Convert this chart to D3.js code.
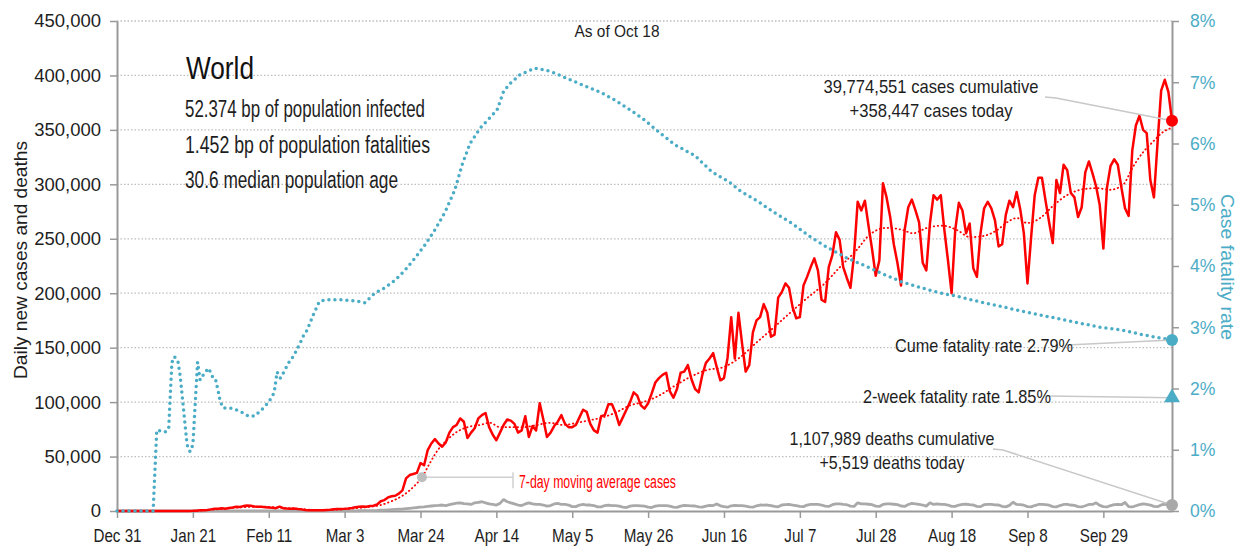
<!DOCTYPE html>
<html>
<head>
<meta charset="utf-8">
<script src="https://cdn.jsdelivr.net/npm/d3@7"></script>
<style>
  body { margin: 0; background: #fff; }
  svg text { font-family: "Liberation Sans", Arial, sans-serif; }
</style>
</head>
<body>
<div id="chart"></div>
<script>
// daily new cases (thousands), one value per day from Dec 31
const dailyCases = [
  0,0,0,0,0,0,0,0,0,0, 0,0,0,0,0,0,0,0,0,0,
  0.1,0.15,0.3,0.6,0.7,1.0,1.5,2.0,2.1,2.6,
  2.0,2.8,3.2,3.9,3.7,4.5,5.0,4.8,4.2,3.8,
  3.8,3.5,3.2,3.0,2.6,4.0,2.6,2.2,2.0,2.2,
  1.8,1.5,1.0,0.8,0.6,0.6,0.6,0.8,1.0,1.2,
  1.5,1.8,1.8,2.0,2.3,2.8,3.5,4.0,4.2,4.0,
  4.5,4.8,6,9,10,12.5,13.5,14,16,19,
  30,33,34,35,44,42,56,62,66,62,
  59,63,72,77,79,85,82,67,72,76,
  85,88,90,77,70,65,72,79,84,83,
  80,72,74,87,68,78,74,99,84,68,
  72,78,82,88,80,77,77,79,86,93,
  91,80,74,72,87,88,98,98,90,79,
  86,93,100,109,106,97,94,99,108,118,
  122,125,127,110,104,112,127,128,134,121,
  112,109,125,136,140,145,132,120,122,141,
  178,140,182,154,128,134,164,175,178,190,
  182,160,162,196,201,209,205,187,177,178,
  207,215,224,232,221,194,192,224,235,256,
  249,224,214,205,235,284,276,285,262,240,
  216,230,301,288,270,245,228,207,258,279,
  286,276,265,228,221,264,290,286,290,258,
  230,200,258,283,276,255,264,223,215,255,
  278,284,278,267,243,245,272,285,279,293,
  277,255,209,251,290,306,306,285,265,246,
  304,292,318,313,292,288,270,279,311,321,
  310,298,281,241,297,317,323,318,297,278,
  271,331,354,363,350,347,304,288,338,386,
  396,385,358.447
];

// daily new deaths (thousands)
const dailyDeaths = [
  0,0,0,0,0,0,0,0,0,0, 0,0,0,0,0,0,0,0,0,0, 0,
  0.01,0.01,0.02,0.02,0.03,0.04,0.05,0.04,0.06,0.04,
  0.05,0.06,0.06,0.07,0.07,0.08,0.09,0.09,0.1,0.1,
  0.1,0.1,0.12,0.14,0.12,0.11,0.1,0.1,0.1,0.1,
  0.1,0.1,0.1,0.08,0.06,0.06,0.05,0.06,0.07,0.08,
  0.1,0.1,0.12,0.15,0.15,0.2,0.25,0.3,0.3,0.35,
  0.4,0.5,0.7,0.8,1.0,1.2,1.4,1.6,1.8,2.2,
  2.5,2.8,3.2,3.5,3.8,4.2,4.6,5.0,5.2,5.5,
  5.0,5.8,6.6,7.2,7.5,6.8,6.5,6.0,7.5,8.0,
  8.5,7.5,6.5,6.0,5.5,7.0,10.5,8.5,7.5,6.5,
  5.5,5.0,6.5,7.5,6.5,6.0,6.0,5.5,4.5,5.0,
  6.5,7.0,6.0,6.0,5.5,4.0,4.0,5.5,6.0,5.5,
  5.5,5.0,3.8,3.8,5.0,5.5,5.0,5.0,4.5,3.5,
  3.2,4.5,5.0,5.0,4.8,4.5,3.5,3.2,4.5,5.0,
  5.0,5.0,4.5,3.5,3.3,4.5,5.2,5.0,4.8,4.6,
  3.8,3.5,4.5,5.2,5.0,6.5,4.8,4.0,3.5,4.8,
  5.2,5.0,5.0,4.5,3.8,3.5,4.8,5.5,5.4,5.5,
  5.0,4.2,3.8,5.5,5.8,6.0,5.5,5.0,4.2,4.0,
  5.5,6.0,6.0,6.0,5.5,4.5,4.2,5.8,6.5,6.5,
  6.0,5.8,4.5,4.2,7.5,6.5,6.5,6.2,5.8,4.5,
  4.2,6.0,6.5,6.6,6.2,5.8,4.6,4.2,6.0,7.0,
  6.5,6.0,5.5,4.5,7.5,6.0,6.5,6.0,6.0,5.5,
  4.3,4.2,5.5,6.0,6.2,5.8,5.5,4.2,4.0,5.8,
  6.0,6.0,5.6,5.5,4.2,3.8,5.2,8.0,6.0,5.8,
  5.3,4.0,3.8,5.0,6.0,6.0,5.8,5.3,4.0,3.8,
  5.0,6.0,6.0,5.5,5.2,4.0,3.7,4.8,6.0,6.0,
  7.5,5.2,4.0,3.7,5.0,5.8,6.0,5.8,7.8,4.0,
  3.7,4.8,5.8,6.5,6.0,5.5,4.2,4.0,5.6,6.2,6.2,5.519
];

// 7-day moving average of cases (day, thousands)
const avgDays = [0,20,25,30,35,40,45,50,55,60,65,70,73,76,79,82,84.4,86.6,88.8,91.3,94,97,100.5,103.2,106,109.3,112.4,116.2,119.8,123.4,127.3,131,134.5,138.4,142,145.6,150.3,153.9,158.6,163.3,167.7,172.4,177.1,181.6,186.3,191,195.4,200.1,204.8,208.4,213,217.5,220.3,224.2,228.6,232.5,236.1,239.7,243.6,246.3,249.1,251.9,255.5,259,262.9,267.4,271.2,274.8,278.4,281.2,284,286.7,289.5,292];
const avgCases = [0,0.1,0.8,2.2,3.5,4.0,3.2,2.2,1.0,1.1,2.2,3.8,5.5,9,14,22,31,44,56,65,72.5,77,79,81,77,77,77,79,81,79,81,83.5,86,91,97,100,106.5,114,123,129.5,132,141,155,168,182,195.5,207.5,224,240,254,260,258,255,260,262,258,251.5,252.5,258,265,269,264.5,269,280,290,295.5,296.5,295,299.5,316,329.5,339,348,352];

// cumulative case fatality rate (day, percent)
const cfrDays = [0,10,11,13.3,14.3,15.2,15.9,16.9,17.5,19.4,20.2,21,22.3,23,24.4,25.4,26.3,27.2,28.1,28.6,29.5,31.3,33,34.6,36.4,38,39.6,41,42.3,43.5,44.3,45.2,45.9,46.8,47.8,48.9,49.8,50.7,51.6,52.6,54.3,56,58,62,66,68.6,71.4,74,77,79.7,82.5,85.2,88,90.8,93.5,95.5,97.7,100.5,103.2,105.2,107,108.8,111.5,115.7,118.5,121.2,125.4,129.5,133.7,137.8,142,146.1,150.3,154.4,160,164.6,169.7,172.4,177.5,182,186.7,191.8,196.4,202,208.4,211.6,217.2,222.3,227.8,232.9,238.4,243.9,249,255.5,263.8,272,277.6,284.5,292];
const cfrPct = [0,0,1.32,1.29,1.34,2.43,2.52,2.43,2.2,1.08,0.97,1.08,2.43,2.14,2.27,2.33,2.2,2.17,1.93,1.78,1.68,1.68,1.65,1.61,1.55,1.55,1.63,1.71,1.81,1.93,2.27,2.17,2.24,2.34,2.45,2.53,2.64,2.74,2.86,2.95,3.2,3.42,3.45,3.45,3.43,3.40,3.56,3.64,3.77,3.93,4.13,4.34,4.59,4.88,5.24,5.65,6.0,6.25,6.42,6.55,6.85,6.98,7.12,7.23,7.2,7.15,7.04,6.94,6.84,6.71,6.55,6.38,6.17,5.98,5.8,5.54,5.36,5.23,5.05,4.87,4.70,4.48,4.31,4.13,3.97,3.88,3.74,3.65,3.56,3.50,3.42,3.35,3.28,3.2,3.1,3.0,2.96,2.87,2.79];

const xTickDays = [0,21,42,63,84,105,126,147,168,189,210,231,252,273];
const yTicks = [0,50000,100000,150000,200000,250000,300000,350000,400000,450000];
const rateTicks = [0,0.01,0.02,0.03,0.04,0.05,0.06,0.07,0.08];

const statLines = ["52.374 bp of population infected", "1.452 bp of population fatalities", "30.6 median population age"];
const totalCases = 39774551, totalDeaths = 1107989;
const twoWeekRate = 1.85;

const width = 1241, height = 548;
const margin = { top: 21, right: 69, bottom: 37, left: 117 };
const start = new Date(2019, 11, 31);
const end = new Date(2020, 9, 18);
const dayToDate = d => new Date(start.getTime() + d * 864e5);

const blue = "#4bacc6", red = "#ff0000", grey = "#a9a9a9", ink = "#1e1e1e";

const svg = d3.select("#chart").append("svg")
    .attr("width", width)
    .attr("height", height);

// squeeze a text to a given width (the original font is a condensed one)
const fitWidth = (sel, w) => sel.attr("textLength", w).attr("lengthAdjust", "spacingAndGlyphs");
const condense = (sel, k) => sel.each(function () {
    d3.select(this).call(fitWidth, this.getComputedTextLength() * k);
});

const x = d3.scaleTime().domain([start, end]).range([margin.left, width - margin.right]);
const y = d3.scaleLinear().domain([0, 450000]).range([height - margin.bottom, margin.top]);
const yRate = d3.scaleLinear().domain([0, 0.08]).range([height - margin.bottom, margin.top]);

// dotted gridlines
svg.append("g")
    .selectAll("line")
    .data(yTicks.slice(1))
    .join("line")
    .attr("x1", margin.left)
    .attr("x2", width - margin.right)
    .attr("y1", d => y(d))
    .attr("y2", d => y(d))
    .attr("stroke", "#bdbdbd")
    .attr("stroke-width", 1.3)
    .attr("stroke-dasharray", "1.5 2");

// axes
const styleAxis = (g, color, k) => {
    g.attr("font-family", null);
    g.select(".domain").attr("stroke", "#999").attr("stroke-width", 2);
    g.selectAll(".tick line").attr("stroke", "#999").attr("stroke-width", 1.5);
    g.selectAll(".tick text").attr("font-size", 18.5).attr("fill", color).call(condense, k);
};

svg.append("g")
    .attr("transform", `translate(${margin.left},0)`)
    .call(d3.axisLeft(y).tickValues(yTicks).tickFormat(d3.format(",")).tickSize(7).tickSizeOuter(0).tickPadding(9))
    .call(styleAxis, ink, 1);

svg.append("g")
    .attr("transform", `translate(${width - margin.right},0)`)
    .call(d3.axisRight(yRate).tickValues(rateTicks).tickFormat(d3.format(".0%")).tickSize(7).tickSizeOuter(0).tickPadding(11))
    .call(styleAxis, blue, 0.95);

svg.append("g")
    .attr("transform", `translate(0,${height - margin.bottom})`)
    .call(d3.axisBottom(x).tickValues(xTickDays.map(dayToDate)).tickFormat(d3.timeFormat("%b %-d")).tickSize(7).tickSizeOuter(0).tickPadding(11))
    .call(styleAxis, ink, 0.82);

// axis titles
svg.append("text")
    .attr("transform", "translate(27,260) rotate(-90)")
    .attr("text-anchor", "middle")
    .attr("font-size", 18.5)
    .attr("fill", ink)
    .text("Daily new cases and deaths")
    .call(fitWidth, 238);

svg.append("text")
    .attr("transform", "translate(1221,267) rotate(90)")
    .attr("text-anchor", "middle")
    .attr("font-size", 18.5)
    .attr("fill", blue)
    .text("Case fatality rate")
    .call(fitWidth, 146);

// lines
const dailyLine = d3.line()
    .x((d, i) => x(dayToDate(i)))
    .y(d => y(d * 1000));

svg.append("path")
    .datum(dailyDeaths)
    .attr("fill", "none")
    .attr("stroke", grey)
    .attr("stroke-width", 2.8)
    .attr("stroke-linejoin", "round")
    .attr("d", dailyLine);

svg.append("path")
    .datum(avgDays.map((d, i) => [d, avgCases[i]]))
    .attr("fill", "none")
    .attr("stroke", red)
    .attr("stroke-width", 1.8)
    .attr("stroke-linecap", "round")
    .attr("stroke-dasharray", "0.5 3.5")
    .attr("d", d3.line().curve(d3.curveMonotoneX).x(d => x(dayToDate(d[0]))).y(d => y(d[1] * 1000)));

svg.append("path")
    .datum(dailyCases)
    .attr("fill", "none")
    .attr("stroke", red)
    .attr("stroke-width", 2.5)
    .attr("stroke-linejoin", "round")
    .attr("d", dailyLine);

svg.append("path")
    .datum(cfrDays.map((d, i) => [d, cfrPct[i]]))
    .attr("fill", "none")
    .attr("stroke", blue)
    .attr("stroke-width", 3.5)
    .attr("stroke-linecap", "round")
    .attr("stroke-dasharray", "0 6")
    .attr("d", d3.line().x(d => x(dayToDate(d[0]))).y(d => yRate(d[1] / 100)));

// title block
svg.append("text")
    .attr("x", 186).attr("y", 79)
    .attr("font-size", 32)
    .attr("fill", "#111")
    .text("World")
    .call(fitWidth, 68);

const statWidths = [240, 245, 213];
svg.append("g")
    .selectAll("text")
    .data(statLines)
    .join("text")
    .attr("x", 185)
    .attr("y", (d, i) => 117 + i * 35.5)
    .attr("font-size", 23)
    .attr("fill", ink)
    .text(d => d)
    .each(function (d, i) { d3.select(this).call(fitWidth, statWidths[i]); });

svg.append("text")
    .attr("x", 617).attr("y", 37)
    .attr("text-anchor", "middle")
    .attr("font-size", 17)
    .attr("fill", ink)
    .text("As of Oct 18")
    .call(fitWidth, 85);

// end-of-series annotations
const lastDay = dailyCases.length - 1;
const xEnd = x(dayToDate(lastDay));
const lastCases = dailyCases[lastDay] * 1000;
const lastDeaths = dailyDeaths[lastDay] * 1000;
const lastCfr = cfrPct[cfrPct.length - 1] / 100;
const fmt = d3.format(",");

const leader = pts => svg.append("polyline")
    .attr("points", pts.map(p => p.join(",")).join(" "))
    .attr("fill", "none")
    .attr("stroke", "#c8c8c8")
    .attr("stroke-width", 1.5);

leader([[1045, 97], [1056, 98], [xEnd, y(lastCases)]]);
leader([[1067, 345], [xEnd, yRate(lastCfr)]]);
leader([[1047, 396], [xEnd, yRate(twoWeekRate / 100)]]);
leader([[993, 449], [1003, 450], [xEnd, y(lastDeaths)]]);

svg.append("circle").attr("cx", xEnd).attr("cy", y(lastCases)).attr("r", 6).attr("fill", red);
svg.append("circle").attr("cx", xEnd).attr("cy", yRate(lastCfr)).attr("r", 6).attr("fill", blue);
svg.append("path")
    .attr("transform", `translate(${xEnd},${yRate(twoWeekRate / 100)})`)
    .attr("d", d3.symbol(d3.symbolTriangle, 110))
    .attr("fill", blue);
svg.append("circle").attr("cx", xEnd).attr("cy", y(lastDeaths)).attr("r", 6).attr("fill", grey);

const note = (text, w, xPos, yPos, anchor) => svg.append("text")
    .attr("x", xPos).attr("y", yPos)
    .attr("font-size", 19)
    .attr("fill", ink)
    .attr("text-anchor", anchor)
    .text(text)
    .call(fitWidth, w);

note(`${fmt(totalCases)} cases cumulative`, 215, 931, 93, "middle");
note(`+${fmt(lastCases)} cases today`, 163, 931, 117, "middle");
note(`Cume fatality rate ${(lastCfr * 100).toFixed(2)}%`, 178, 1073, 352, "end");
note(`2-week fatality rate ${twoWeekRate.toFixed(2)}%`, 188, 1051, 403, "end");
note(`${fmt(totalDeaths)} deaths cumulative`, 205, 892, 445, "middle");
note(`+${fmt(lastDeaths)} deaths today`, 145, 892, 469, "middle");

// 7-day average callout
const calloutDay = 84.4;
const cx = x(dayToDate(calloutDay)), cy = y(31000);
svg.append("line").attr("x1", cx).attr("x2", 513).attr("y1", cy).attr("y2", cy)
    .attr("stroke", "#d0d0d0").attr("stroke-width", 1.5);
svg.append("line").attr("x1", 513).attr("x2", 513).attr("y1", cy - 5).attr("y2", cy + 11)
    .attr("stroke", "#d0d0d0").attr("stroke-width", 1.5);
svg.append("circle").attr("cx", cx).attr("cy", cy).attr("r", 5).attr("fill", "#bdbdbd");
svg.append("text")
    .attr("x", 519).attr("y", cy + 11)
    .attr("font-size", 18)
    .attr("fill", red)
    .text("7-day moving average cases")
    .call(fitWidth, 157);
</script>
</body>
</html>
